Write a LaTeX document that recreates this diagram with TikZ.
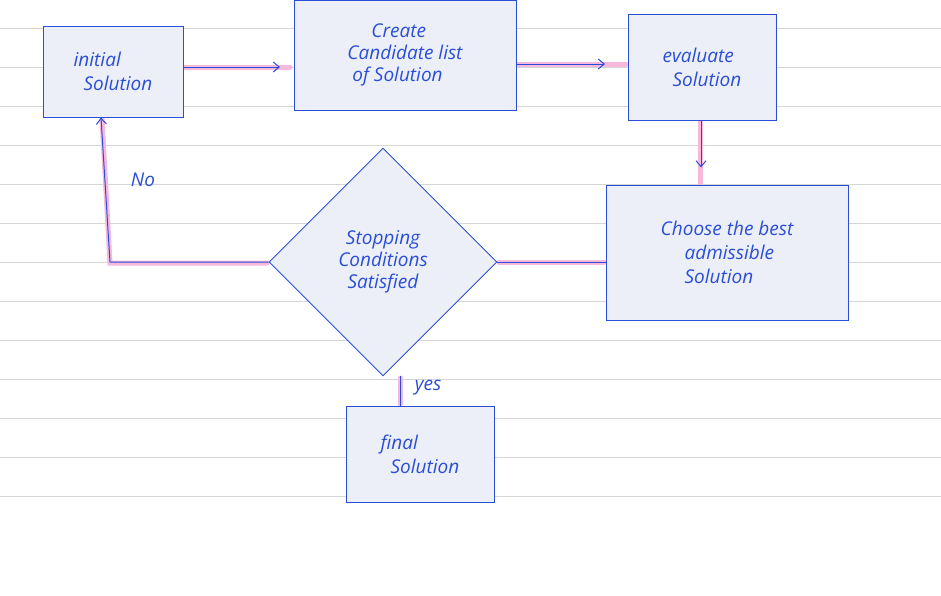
\documentclass[tikz,border=0pt]{standalone}
\usepackage{fontspec}
\setmainfont{Open Sans}
\usetikzlibrary{arrows.meta,shapes.geometric}
\definecolor{pen}{HTML}{2A4FD6}
\definecolor{boxfill}{HTML}{ECEEF8}
\definecolor{hl}{HTML}{F7B8DD}
\definecolor{rule}{HTML}{D6D6D6}
\begin{document}
\begin{tikzpicture}[x=1pt,y=-1pt,
  box/.style={draw=pen,fill=boxfill,line width=0.9pt,inner sep=0pt,text=pen,font=\fontsize{19}{22}\selectfont\itshape,align=left},
  hil/.style={hl,line width=5pt,line cap=round},
  con/.style={pen,line width=1pt,-{Straight Barb[length=6pt,width=10pt]}},
  lab/.style={text=pen,font=\fontsize{19}{22}\selectfont\itshape}]
\useasboundingbox (0,0) rectangle (941,595);
\fill[white] (0,0) rectangle (941,595);
\foreach \y in {28,67,106,145,184,223,262,301,340,379,418,457,496}
  \draw[rule,line width=0.6pt] (0,\y) -- (941,\y);
% highlights
\draw[hil] (185,67) -- (290,67);
\draw[hil] (518,64) -- (626,64);
\draw[hil] (700,122) -- (700,183);
\draw[hil] (499,262) -- (604,262);
\draw[hil] (267,263) -- (110,263) -- (102,119);
\draw[hil] (400,378) -- (400,404);
% nodes
\node[box,minimum width=140pt,minimum height=91pt] (init) at (113,71.5) {initial\\[2pt]\ \ Solution};
\node[box,minimum width=222pt,minimum height=110pt] (create) at (405,55) {\quad\ Create\\Candidate list\\\ of Solution};
\node[box,minimum width=148pt,minimum height=106pt] (eval) at (702,67) {evaluate\\[2pt]\ \ Solution};
\node[box,minimum width=242pt,minimum height=135pt] (choose) at (727,252.5) {Choose the best\\[2pt]\quad\ admissible\\[2pt]\quad\ Solution};
\node[box,diamond,minimum width=228pt,minimum height=228pt,align=center] (stop) at (383,262) {Stopping\\Conditions\\Satisfied};
\node[box,minimum width=148pt,minimum height=96pt] (final) at (420,454) {final\\[2pt]\ \ Solution};
\coordinate (a1) at (280,67);
\coordinate (a2) at (605,64);
\coordinate (cw) at (606,262);
\coordinate (bend) at (110,262);
% connectors
\draw[con] (init.east |- a1) -- (a1);
\draw[con] (create.east |- a2) -- (a2);
\draw[con] (eval.south -| 701,0) -- ++(0,47);
\draw[pen,line width=1pt] (stop.east) -- (cw);
\draw[con] (stop.west) -- (bend) -- (init.south -| 101,0);
\draw[pen,line width=1pt] (stop.south -| 400,0) -- (final.north -| 400,0);
\node[lab] (no) at (143,180) {No};
\node[lab] (yes) at (428,388) {yes};
\end{tikzpicture}
\end{document}
